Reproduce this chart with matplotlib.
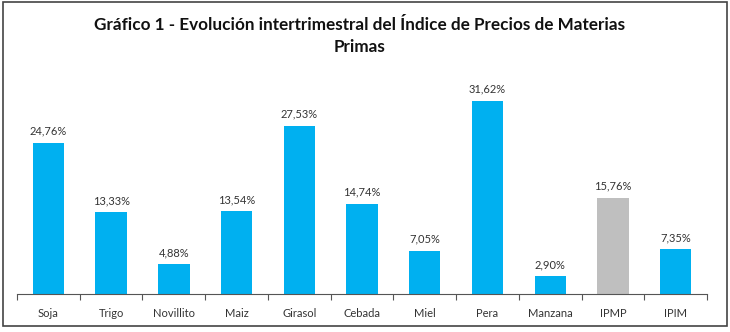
import numpy as np
import matplotlib.pyplot as plt
from matplotlib.patches import Rectangle

productos = ["Soja", "Trigo", "Novillito", "Maiz", "Girasol", "Cebada",
             "Miel", "Pera", "Manzana", "IPMP", "IPIM"]
variacion = [24.76, 13.33, 4.88, 13.54, 27.53, 14.74, 7.05, 31.62, 2.90, 15.76, 7.35]
colores = ["#00B0F0"] * 9 + ["#BFBFBF", "#00B0F0"]

plt.rcParams['font.family'] = ['Lato', 'DejaVu Sans']

fig = plt.figure(figsize=(7.3, 3.32), dpi=100)
ax = fig.add_axes([17 / 730, 38 / 332, 690 / 730, 214 / 332])

x = np.arange(len(productos))
barras = ax.bar(x, variacion, width=0.5, color=colores)
for xi, v in zip(x, variacion):
    ax.text(xi, v + 1.0, f"{v:.2f}%".replace(".", ","), ha="center", va="bottom",
            fontsize=8, color="#333333")

ax.set_xlim(-0.5, len(productos) - 0.5)
ax.set_ylim(0, 35)
ax.set_xticks(x)
ax.set_xticklabels(productos, fontsize=8, color="#333333")
ax.set_xticks(np.arange(-0.5, len(productos)), minor=True)
ax.tick_params(axis="x", which="major", length=0, pad=10)
ax.tick_params(axis="x", which="minor", length=4, width=0.8, color="#555555", direction="out")
ax.set_yticks([])
for s in ["top", "left", "right"]:
    ax.spines[s].set_visible(False)
ax.spines["bottom"].set_color("#555555")
ax.spines["bottom"].set_linewidth(0.8)

fig.text(0.493, 1 - 25 / 332, "Gráfico 1 - Evolución intertrimestral del Índice de Precios de Materias",
         ha="center", va="center", fontsize=12.3, fontweight="bold", color="#111111")
fig.text(0.493, 1 - 47 / 332, "Primas", ha="center", va="center",
         fontsize=12.3, fontweight="bold", color="#111111")

fig.patches.append(Rectangle((3 / 730, 6 / 332), 724 / 730, 324 / 332, transform=fig.transFigure,
                             fill=False, edgecolor="#444444", linewidth=1.2))

fig.savefig("out.png", dpi=100)
